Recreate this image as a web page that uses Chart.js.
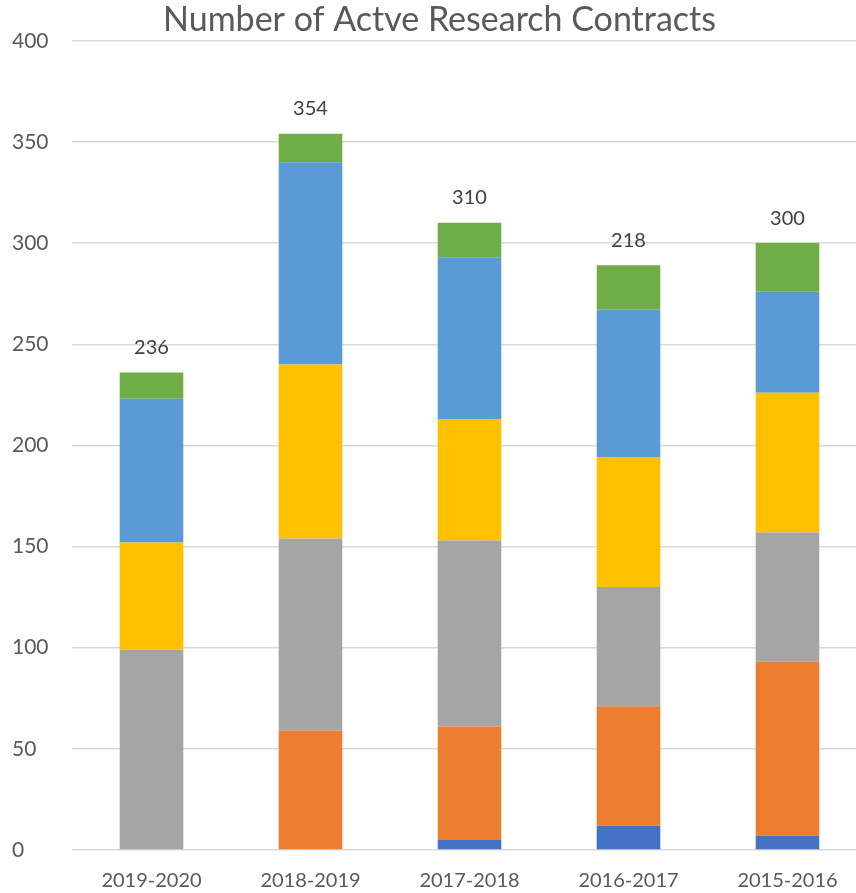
<!DOCTYPE html>
<html>
<head>
<meta charset="utf-8">
<script src="https://cdn.jsdelivr.net/npm/chart.js@4.4.1/dist/chart.umd.min.js"></script>
<style>
  html, body { margin: 0; padding: 0; background: #fff; overflow: hidden; }
  #wrap { width: 867px; height: 893px; }
</style>
</head>
<body>
<div id="wrap"><canvas id="bar"></canvas></div>
<script>
/* =================================================================
    Data
================================================================= */

var years = ["2019-2020", "2018-2019", "2017-2018", "2016-2017", "2015-2016"];

var series1 = [0, 0, 5, 12, 7];
var series2 = [0, 59, 56, 59, 86];
var series3 = [99, 95, 92, 59, 64];
var series4 = [53, 86, 60, 64, 69];
var series5 = [71, 100, 80, 73, 50];
var series6 = [13, 14, 17, 22, 24];

// labels printed above each bar (as shown in the original)
var totalLabels = ["236", "354", "310", "218", "300"];

var yTicks = [0, 50, 100, 150, 200, 250, 300, 350, 400];

/* =================================================================
    Stacked bar chart
================================================================= */

var font = "Lato, 'Open Sans', sans-serif";

var totalsPlugin = {
    id: 'totals',
    afterDatasetsDraw: function (chart) {
        var ctx = chart.ctx;
        var y = chart.scales.y;
        var x = chart.scales.x;
        ctx.save();
        ctx.font = "20px " + font;
        ctx.fillStyle = "#404040";
        ctx.textAlign = "center";
        ctx.textBaseline = "middle";
        years.forEach(function (yr, i) {
            var sum = 0;
            chart.data.datasets.forEach(function (ds) { sum += ds.data[i]; });
            ctx.fillText(totalLabels[i], x.getPixelForValue(i), y.getPixelForValue(sum) - 25);
        });
        ctx.restore();
    }
};

var ctx = document.getElementById("bar");

var data = {
    labels: years,
    datasets: [
        { label: "Series 1", data: series1, backgroundColor: "#4472C4" },
        { label: "Series 2", data: series2, backgroundColor: "#ED7D31" },
        { label: "Series 3", data: series3, backgroundColor: "#A5A5A5" },
        { label: "Series 4", data: series4, backgroundColor: "#FFC000" },
        { label: "Series 5", data: series5, backgroundColor: "#5B9BD5" },
        { label: "Series 6", data: series6, backgroundColor: "#70AD47" }
    ]
};

var myChart = new Chart(ctx, {
    type: 'bar',
    data: data,
    plugins: [totalsPlugin],
    options: {
        responsive: true,
        maintainAspectRatio: false,
        animation: false,
        layout: { padding: { left: 12, right: 0, top: 0, bottom: 0 } },
        datasets: {
            bar: { barPercentage: 0.4, categoryPercentage: 1.0 }
        },
        plugins: {
            legend: { display: false },
            tooltip: { enabled: false },
            title: {
                display: true,
                text: "Number of Actve Research Contracts",
                color: "#595959",
                font: { family: font, size: 34, weight: 'normal' },
                padding: { top: 0, bottom: 0 }
            }
        },
        scales: {
            x: {
                stacked: true,
                afterFit: function (scale) { scale.height = 43; },
                grid: { display: false, drawTicks: false },
                border: { display: false },
                ticks: { color: "#595959", font: { family: font, size: 20 }, padding: 19, maxRotation: 0 }
            },
            y: {
                stacked: true,
                min: 0,
                max: 400,
                afterBuildTicks: function (scale) {
                    scale.ticks = yTicks.map(function (v) { return { value: v }; });
                },
                afterFit: function (scale) { scale.width = 60; },
                grid: { color: "#d9d9d9", lineWidth: 1.5, drawTicks: false },
                border: { display: false },
                ticks: {
                    color: "#595959",
                    font: { family: font, size: 21 },
                    crossAlign: 'far',
                    padding: 10
                }
            }
        }
    }
});
</script>
</body>
</html>
